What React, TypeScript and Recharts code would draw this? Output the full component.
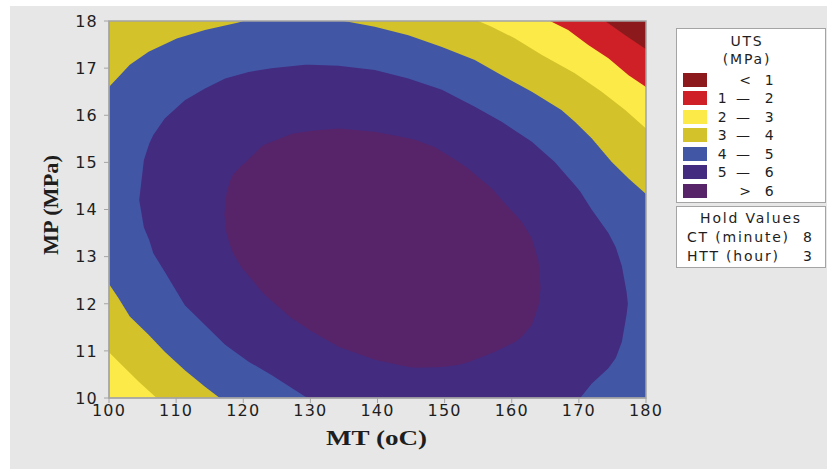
import React from 'react';
import { ComposedChart, Area, XAxis, YAxis, ReferenceArea, Label } from 'recharts';

const xTicks = [100, 110, 120, 130, 140, 150, 160, 170, 180];
const yTicks = [10, 11, 12, 13, 14, 15, 16, 17, 18];

// contour bands, each point is [MT, low MP, high MP]
const band45 = [[100, 10, 18], [180, 10, 18]];

const band34Top = [
  [100, 16.6, 18], [103.1, 17.07, 18], [105.9, 17.35, 18], [110.1, 17.63, 18],
  [114.3, 17.81, 18], [119.3, 17.97, 18], [120, 18, 18], [135, 18, 18],
  [139.6, 17.88, 18], [144.6, 17.7, 18], [149.6, 17.45, 18], [154.5, 17.17, 18],
  [158.5, 16.85, 18], [163, 16.5, 18], [167.4, 16.11, 18], [169.4, 15.86, 18],
  [171.9, 15.51, 18], [174.9, 15.01, 18], [177.4, 14.66, 18], [180, 14.33, 18],
];

const band34Low = [
  [100, 10, 12.42], [101.4, 10, 12.12], [103.1, 10, 11.73], [105.9, 10, 11.34],
  [108.3, 10, 10.98], [111.3, 10, 10.59], [114.3, 10, 10.24], [116.5, 10, 10],
];

const band23Top = [
  [155, 18, 18], [157, 17.88, 18], [160.5, 17.63, 18], [164.5, 17.28, 18],
  [169.4, 16.89, 18], [173.4, 16.5, 18], [176.9, 16.11, 18], [180, 15.72, 18],
];

const band23Low = [
  [100, 10, 10.97], [102.4, 10, 10.63], [104.4, 10, 10.35], [107.1, 10, 10],
];

const band12 = [
  [165.7, 18, 18], [168.4, 17.81, 18], [171.4, 17.49, 18], [174.4, 17.21, 18],
  [177.4, 16.85, 18], [180, 16.6, 18],
];

const band01 = [[173.9, 18, 18], [176.9, 17.7, 18], [180, 17.4, 18]];

const band56 = [
  [104.5, 14.2, 14.2], [105.2, 13.62, 15.05], [106, 13.35, 15.4], [106.6, 13.07, 15.58],
  [108.3, 12.68, 15.93], [111.3, 11.97, 16.32], [114.3, 11.55, 16.57], [117.3, 11.13, 16.78],
  [120.8, 10.77, 16.92], [124.2, 10.49, 17.0], [129.2, 10.03, 17.07], [130, 10, 17.07],
  [134.2, 10, 17.05], [139.6, 10, 16.96], [144.6, 10, 16.78], [149.6, 10, 16.54],
  [154.5, 10, 16.18], [158.5, 10, 15.86], [163, 10, 15.44], [166.4, 10, 15.01],
  [169.4, 10, 14.52], [170.2, 10, 14.38], [171.9, 10.3, 14.0], [174.4, 10.63, 13.5],
  [175.5, 10.85, 13.2], [176.4, 11.19, 12.8], [177.1, 11.76, 12.26], [177.3, 12.0, 12.0],
];

const band6 = [
  [117.2, 13.9, 13.9], [117.5, 13.5, 14.35], [118, 13.25, 14.59], [118.5, 13.07, 14.75],
  [119.8, 12.76, 14.94], [120.3, 12.68, 15.0], [122.7, 12.27, 15.33], [123.2, 12.19, 15.38],
  [127.2, 11.69, 15.6], [127.7, 11.65, 15.62], [130.2, 11.41, 15.67], [134.2, 11.09, 15.72],
  [139.6, 10.81, 15.65], [144.6, 10.66, 15.51], [145.6, 10.64, 15.48], [148.6, 10.65, 15.32],
  [149.6, 10.66, 15.23], [152, 10.7, 15.02], [153.5, 10.76, 14.87], [157, 10.95, 14.45],
  [159.5, 11.12, 14.05], [160.5, 11.19, 13.9], [161.5, 11.3, 13.74], [163, 11.55, 13.39],
  [164, 11.97, 12.89], [164.3, 12.33, 12.33],
];

const COLORS = {
  lt1: '#8c1a1c',
  c12: '#cf2027',
  c23: '#fcea48',
  c34: '#d3c229',
  c45: '#4157a5',
  c56: '#432b80',
  gt6: '#57246a',
};

// painted back to front
const bands = [
  { id: 'b45', pts: band45, color: COLORS.c45 },
  { id: 'b34t', pts: band34Top, color: COLORS.c34 },
  { id: 'b34l', pts: band34Low, color: COLORS.c34 },
  { id: 'b23t', pts: band23Top, color: COLORS.c23 },
  { id: 'b23l', pts: band23Low, color: COLORS.c23 },
  { id: 'b12', pts: band12, color: COLORS.c12 },
  { id: 'b01', pts: band01, color: COLORS.lt1 },
  { id: 'b56', pts: band56, color: COLORS.c56 },
  { id: 'b6', pts: band6, color: COLORS.gt6 },
];

const legendSwatches = [COLORS.lt1, COLORS.c12, COLORS.c23, COLORS.c34, COLORS.c45, COLORS.c56, COLORS.gt6];
const legendLabels = [
  ['', '<', '1'],
  ['1', '—', '2'],
  ['2', '—', '3'],
  ['3', '—', '4'],
  ['4', '—', '5'],
  ['5', '—', '6'],
  ['', '>', '6'],
];
const holdLabels = [['CT (minute)', '8'], ['HTT (hour)', '3']];

const toRows = (pts: number[][]) => pts.map(([x, lo, hi]) => ({ x, range: [lo, hi] }));

const tickFont = { fontFamily: 'DejaVu Sans', fontSize: 16, fill: '#1e1e1e', letterSpacing: 1.2 };

const XTick = (props: any) => (
  <text x={props.x} y={props.y} dy="0.71em" textAnchor="middle" style={tickFont}>
    {props.payload.value}
  </text>
);

const YTick = (props: any) => (
  <text x={props.x} y={props.y} dy="0.36em" textAnchor="end" style={tickFont}>
    {props.payload.value}
  </text>
);

const titleStyle = { fontFamily: 'Liberation Serif', fontWeight: 700, fontSize: 20, fill: '#1e1e1e' };

const legendFont: React.CSSProperties = {
  fontFamily: 'DejaVu Sans',
  fontSize: 14,
  letterSpacing: '1.8px',
  color: '#1e1e1e',
  position: 'absolute',
  lineHeight: '18px',
  whiteSpace: 'nowrap',
};

const boxStyle: React.CSSProperties = {
  position: 'absolute',
  left: 676,
  width: 148,
  background: '#fff',
  border: '1.5px solid #a4a4a4',
};

const centered = (cx: number, cy: number, w = 60): React.CSSProperties => ({
  ...legendFont,
  left: cx - w / 2,
  width: w,
  top: cy - 9,
  textAlign: 'center',
});

export default function App() {
  const rowY = (i: number) => 79.7 + i * 18.5;
  return (
    <div style={{ position: 'absolute', left: 0, top: 0, width: 827, height: 469, background: '#fff', overflow: 'hidden' }}>
      <div style={{ position: 'absolute', left: 10, top: 6, right: 0, bottom: 0, background: '#e7e7e7' }} />
      <div style={{ position: 'absolute', left: 0, top: 0 }}>
        <ComposedChart width={827} height={469} margin={{ top: 21, right: 181, bottom: 41, left: 49 }}>
          <XAxis
            type="number"
            dataKey="x"
            domain={[100, 180]}
            ticks={xTicks}
            allowDataOverflow
            height={30}
            tickSize={5}
            tickMargin={2}
            stroke="#a4a4a4"
            tick={<XTick />}
          >
            <Label
              content={({ viewBox }: any) => (
                <text
                  x={viewBox.x + viewBox.width / 2 - 1}
                  y={viewBox.y + 47}
                  textAnchor="middle"
                  textLength={101}
                  lengthAdjust="spacingAndGlyphs"
                  style={titleStyle}
                >
                  MT (oC)
                </text>
              )}
            />
          </XAxis>
          <YAxis
            type="number"
            domain={[10, 18]}
            ticks={yTicks}
            allowDataOverflow
            width={60}
            tickSize={5}
            tickMargin={6}
            stroke="#a4a4a4"
            tick={<YTick />}
          >
            <Label
              content={() => (
                <text
                  x={58}
                  y={205}
                  transform="rotate(-90 58 205)"
                  textAnchor="middle"
                  textLength={100}
                  lengthAdjust="spacingAndGlyphs"
                  style={titleStyle}
                >
                  MP (MPa)
                </text>
              )}
            />
          </YAxis>
          {bands.map((b) => (
            <Area
              key={b.id}
              data={toRows(b.pts)}
              dataKey="range"
              type="linear"
              fill={b.color}
              fillOpacity={1}
              stroke="none"
              dot={false}
              activeDot={false}
              isAnimationActive={false}
            />
          ))}
          <ReferenceArea x1={100} x2={180} y1={10} y2={18} fill="none" stroke="#a4a4a4" strokeWidth={1.5} />
        </ComposedChart>
      </div>

      <div style={{ ...boxStyle, top: 28, height: 173 }} />
      <div style={centered(747, 40.7)}>UTS</div>
      <div style={centered(747, 59, 80)}>(MPa)</div>
      {legendSwatches.map((c, i) => (
        <div key={c} style={{ position: 'absolute', left: 683, top: rowY(i) - 7, width: 24, height: 14, background: c }} />
      ))}
      {legendLabels.map(([a, mid, b], i) => (
        <React.Fragment key={i}>
          {a && <div style={centered(723, rowY(i), 20)}>{a}</div>}
          <div style={centered(mid === '—' ? 744 : 746, rowY(i), 20)}>{mid}</div>
          <div style={centered(770, rowY(i), 20)}>{b}</div>
        </React.Fragment>
      ))}

      <div style={{ ...boxStyle, top: 206, height: 60 }} />
      <div style={centered(751, 218, 130)}>Hold Values</div>
      {holdLabels.map(([name, v], i) => (
        <React.Fragment key={name}>
          <div style={{ ...legendFont, left: 687, top: 236.7 + i * 19 - 9 }}>{name}</div>
          <div style={{ ...legendFont, left: 803, top: 236.7 + i * 19 - 9 }}>{v}</div>
        </React.Fragment>
      ))}
    </div>
  );
}
